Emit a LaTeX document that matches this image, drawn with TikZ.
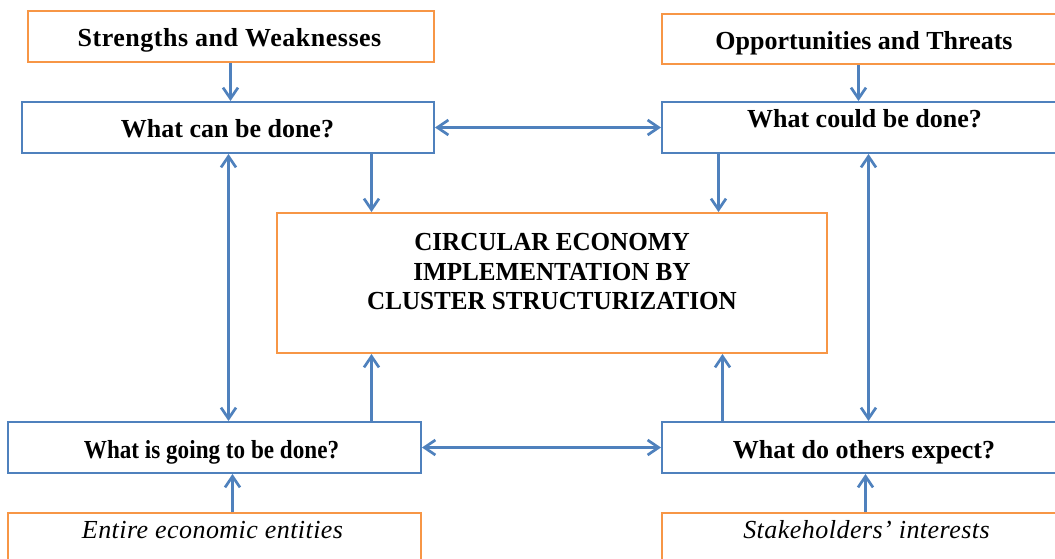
\documentclass[tikz,border=0pt]{standalone}
\usepackage{fontspec}
\setmainfont{Liberation Serif}
\usetikzlibrary{arrows.meta}
\definecolor{orng}{RGB}{247,150,70}
\definecolor{blu}{RGB}{79,129,189}
\tikzset{
  boxbase/.style={draw, line width=2pt, rectangle, inner sep=0pt, fill=white},
  obox/.style={boxbase, draw=orng},
  bbox/.style={boxbase, draw=blu},
  btxt/.style={font=\fontsize{26}{30}\selectfont\bfseries, inner sep=0pt, anchor=base},
  itxt/.style={font=\fontsize{26}{30}\selectfont\itshape, inner sep=0pt, anchor=base},
  arr/.style={draw=blu, line width=2.7pt, -{Straight Barb[length=11pt,width=15pt]}},
  darr/.style={draw=blu, line width=2.7pt, {Straight Barb[length=11pt,width=15pt]}-{Straight Barb[length=11pt,width=15pt]}}
}
\begin{document}
\begin{tikzpicture}[x=1pt,y=-1pt]
\useasboundingbox (0,0) rectangle (1055,558);
\clip (0,0) rectangle (1055,558);
% boxes
\node[obox, minimum width=406pt, minimum height=51pt] (sw) at (231,36.5) {};
\node[btxt] (swt) at (229.5,46) {\addfontfeature{LetterSpace=2}Strengths and Weaknesses};
\node[bbox, minimum width=412pt, minimum height=51pt] (wcbd) at (228,127.5) {};
\node[btxt] (wcbdt) at (227.5,137) {What can be done?};
\node[obox, minimum width=406pt, minimum height=50pt] (ot) at (865,39) {};
\node[btxt] (ott) at (864,49) {Opportunities and Threats};
\node[bbox, minimum width=406pt, minimum height=51pt] (wcobd) at (865,127.5) {};
\node[btxt] (wcobdt) at (864.5,127) {What could be done?};
\node[obox, minimum width=550pt, minimum height=140pt] (center) at (552,283) {};
\node[btxt] (ct1) at (552,250) {\scalebox{0.965}[1]{CIRCULAR ECONOMY}};
\node[btxt] (ct2) at (552,280) {\scalebox{0.965}[1]{IMPLEMENTATION BY}};
\node[btxt] (ct3) at (552,309) {\scalebox{0.965}[1]{CLUSTER STRUCTURIZATION}};
\node[bbox, minimum width=413pt, minimum height=51pt] (wigtbd) at (214.5,447.5) {};
\node[btxt] (wigtbdt) at (211.5,458) {\scalebox{0.89}[1]{What is going to be done?}};
\node[bbox, minimum width=406pt, minimum height=51pt] (wdoe) at (865,447.5) {};
\node[btxt] (wdoet) at (864,458) {What do others expect?};
\node[obox, minimum width=413pt, minimum height=80pt] (eee) at (214.5,553) {};
\node[itxt] (eeet) at (212.5,538) {\addfontfeature{LetterSpace=1.7}Entire economic entities};
\node[obox, minimum width=406pt, minimum height=80pt] (si) at (865,553) {};
\node[itxt] (sit) at (866.5,538) {\addfontfeature{LetterSpace=1.8}Stakeholders’ interests};
% column coordinates
\coordinate (s1) at ([xshift=-0.5pt]sw.south);
\coordinate (o1) at ([xshift=-6.5pt]ot.south);
\coordinate (c1) at ([xshift=95.5pt]center.north west);
\coordinate (c2) at ([xshift=-109.5pt]center.north east);
\coordinate (c3) at ([xshift=95.5pt]center.south west);
\coordinate (c4) at ([xshift=-105.5pt]center.south east);
\coordinate (e1) at ([xshift=18pt]eee.north);
\coordinate (i1) at ([xshift=0.5pt]si.north);
\coordinate (l1) at ([xshift=0.5pt]wcbd.south);
\coordinate (r1) at ([xshift=3.5pt]wcobd.south);
% connectors
\draw[arr] (s1) -- (s1 |- wcbd.north);
\draw[arr] (o1) -- (o1 |- wcobd.north);
\draw[arr] (c1 |- wcbd.south) -- (c1);
\draw[arr] (c2 |- wcobd.south) -- (c2);
\draw[arr] (c3 |- wigtbd.north) -- (c3);
\draw[arr] (c4 |- wdoe.north) -- (c4);
\draw[arr] (e1) -- (e1 |- wigtbd.south);
\draw[arr] (i1) -- (i1 |- wdoe.south);
\draw[darr] (l1) -- (l1 |- wigtbd.north);
\draw[darr] (r1) -- (r1 |- wdoe.north);
\draw[darr] (wcbd.east) -- (wcobd.west);
\draw[darr] (wigtbd.east) -- (wdoe.west);
\end{tikzpicture}
\end{document}
